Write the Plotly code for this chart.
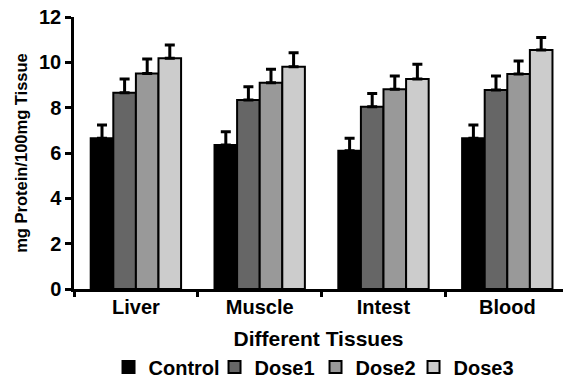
import plotly.graph_objects as go

categories = ["Liver", "Muscle", "Intest", "Blood"]
series_names = ["Control", "Dose1", "Dose2", "Dose3"]
control = [6.65, 6.35, 6.10, 6.65]
dose1 = [8.66, 8.34, 8.04, 8.78]
dose2 = [9.51, 9.10, 8.81, 9.48]
dose3 = [10.18, 9.81, 9.26, 10.54]
control_err = [0.58, 0.59, 0.55, 0.58]
dose1_err = [0.60, 0.58, 0.59, 0.62]
dose2_err = [0.64, 0.59, 0.59, 0.58]
dose3_err = [0.58, 0.61, 0.65, 0.56]
y_ticks = [0, 2, 4, 6, 8, 10, 12]

values = [control, dose1, dose2, dose3]
errors = [control_err, dose1_err, dose2_err, dose3_err]
colors = ["#000000", "#666666", "#999999", "#cccccc"]
legend_widths = [61, 56, 53, 60]

FONT = "Liberation Sans, Arial, sans-serif"

fig = go.Figure()
for name, vals, errs, col, lw in zip(series_names, values, errors, colors, legend_widths):
    fig.add_trace(go.Bar(
        name=name, x=categories, y=vals, legendwidth=lw,
        marker=dict(color=col, line=dict(color="#000000", width=2)),
        error_y=dict(type="data", array=errs, arrayminus=[0] * len(errs),
                     symmetric=False, color="#000000", thickness=3, width=5),
    ))

fig.update_layout(
    width=563, height=379,
    margin=dict(l=74, r=0, t=17, b=90, autoexpand=False),
    paper_bgcolor="white", plot_bgcolor="white",
    barmode="group", bargap=0.27, bargroupgap=0,
    font=dict(family=FONT, size=20, color="#000000", weight="bold"),
    showlegend=True,
    legend=dict(orientation="h", x=0.0706, xanchor="left", y=-0.287, yanchor="middle",
                font=dict(size=20, weight="bold"),
                entrywidthmode="pixels", traceorder="normal", itemclick=False),
    xaxis=dict(
        type="category", range=[-0.5, 3.45], tickson="boundaries", automargin=False,
        showline=True, linecolor="#000000", linewidth=2.5,
        ticks="outside", ticklen=5, tickwidth=2.5, tickcolor="#000000",
        showgrid=False, zeroline=False, ticklabelstandoff=-2,
        tickfont=dict(size=20, weight="bold"),
        title=dict(text="Different Tissues", font=dict(size=21, weight="bold"), standoff=15),
    ),
    yaxis=dict(
        range=[0, 12], tickvals=y_ticks, automargin=False,
        showline=True, linecolor="#000000", linewidth=2.5,
        ticks="outside", ticklen=6, tickwidth=2.5, tickcolor="#000000",
        showgrid=False, zeroline=False,
        tickfont=dict(size=20, weight="bold"),
        title=dict(text="mg Protein/100mg Tissue", font=dict(size=16.5, weight="bold"), standoff=8),
    ),
)

fig.write_html("out.html", config={"displayModeBar": False},
               post_script="document.body.style.margin='0px';")
